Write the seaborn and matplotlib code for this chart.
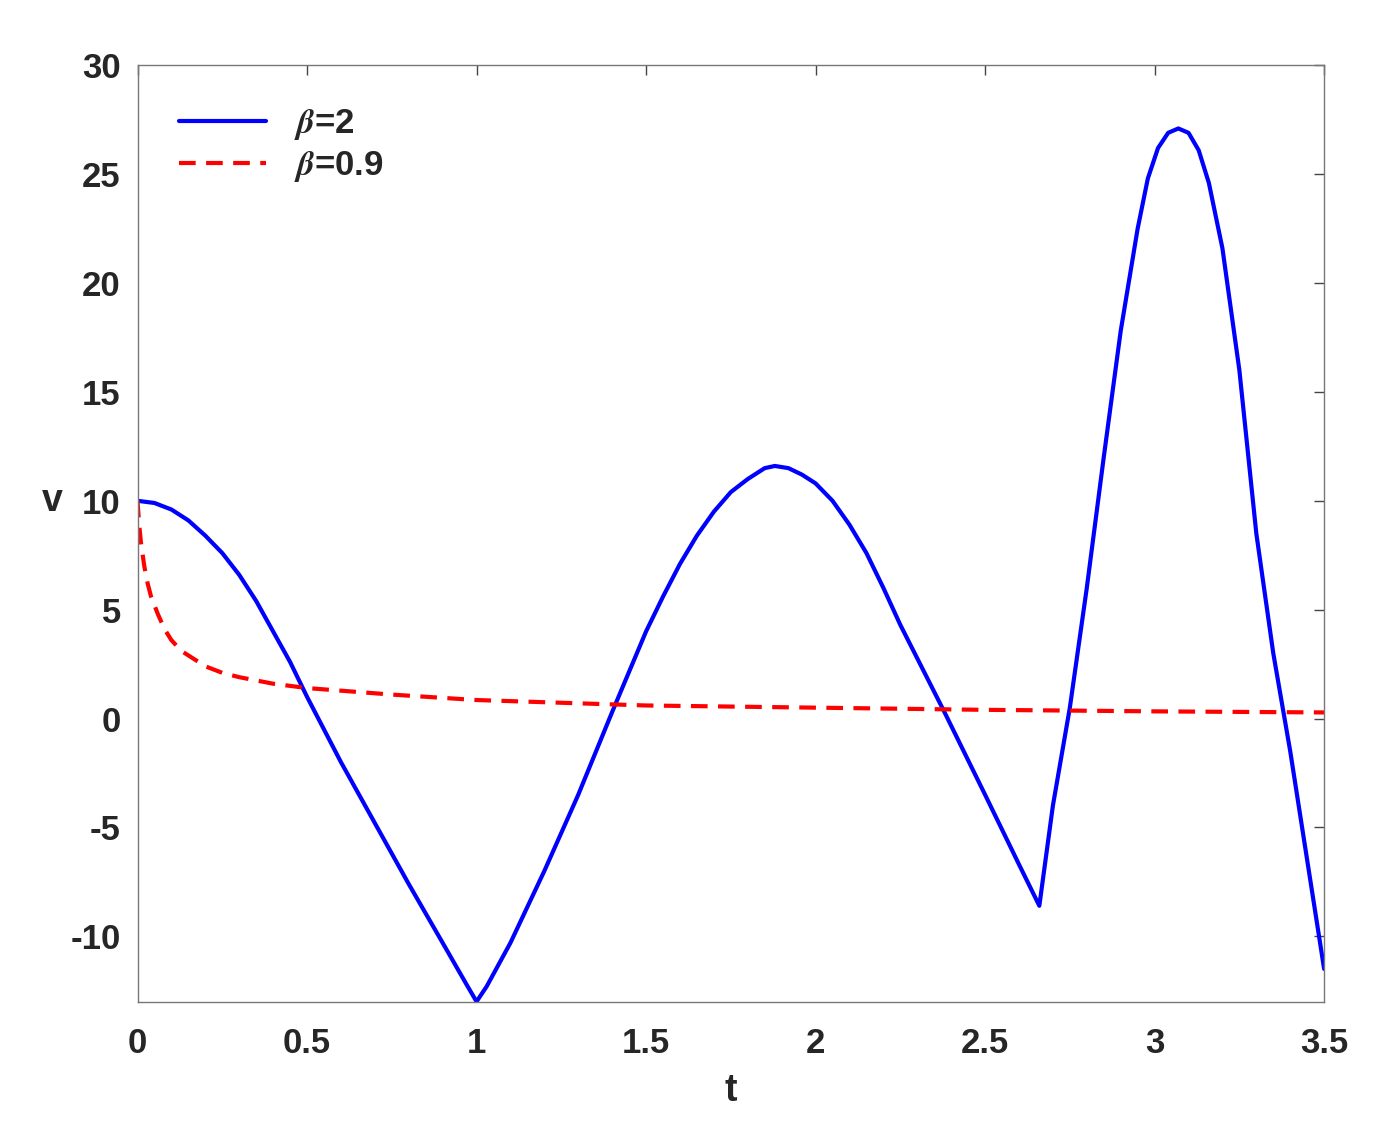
import numpy as np
import pandas as pd
import matplotlib
matplotlib.use("Agg")
import matplotlib.pyplot as plt
import seaborn as sns

# values
t_blue = [0, 0.05, 0.1, 0.15, 0.2, 0.25, 0.3, 0.35, 0.4, 0.45, 0.5, 0.6, 0.7, 0.8,
          0.9, 0.97, 1.0, 1.03, 1.1, 1.2, 1.3, 1.4, 1.5, 1.55, 1.6, 1.65, 1.7, 1.75,
          1.8, 1.85, 1.88, 1.92, 1.96, 2.0, 2.05, 2.1, 2.15, 2.2, 2.25, 2.38, 2.5,
          2.6, 2.66, 2.7, 2.75, 2.8, 2.85, 2.9, 2.95, 2.98, 3.01, 3.04, 3.07, 3.1,
          3.13, 3.16, 3.2, 3.25, 3.3, 3.35, 3.4, 3.45, 3.5]
v_blue = [10, 9.9, 9.6, 9.1, 8.4, 7.6, 6.6, 5.4, 4.0, 2.6, 1.0, -2.0, -4.8, -7.6,
          -10.3, -12.2, -13.0, -12.3, -10.3, -7.0, -3.5, 0.3, 4.0, 5.6, 7.1, 8.4, 9.5, 10.4,
          11.0, 11.5, 11.6, 11.5, 11.2, 10.8, 10.0, 8.9, 7.6, 6.0, 4.3, 0.3, -3.5,
          -6.7, -8.6, -4.0, 0.5, 6.0, 12.0, 17.8, 22.5, 24.8, 26.2, 26.9, 27.1, 26.9,
          26.1, 24.6, 21.6, 16.0, 8.5, 3.0, -1.5, -6.5, -11.5]
t_red = [0, 0.005, 0.01, 0.02, 0.03, 0.04, 0.06, 0.08, 0.1, 0.13, 0.16, 0.2, 0.25,
         0.3, 0.4, 0.5, 0.75, 1.0, 1.5, 2.0, 2.5, 3.0, 3.5]
v_red = [10, 8.9, 8.1, 7.0, 6.2, 5.6, 4.8, 4.1, 3.6, 3.1, 2.8, 2.4, 2.1,
         1.9, 1.6, 1.4, 1.1, 0.85, 0.6, 0.5, 0.4, 0.33, 0.28]

sns.set_style("white")
plt.rcParams['font.family'] = ['Liberation Sans', 'DejaVu Sans']
plt.rcParams['font.weight'] = 'bold'
plt.rcParams['mathtext.fontset'] = 'stix'
plt.rcParams['axes.unicode_minus'] = False

fig, ax = plt.subplots(figsize=(13.75, 11.46), dpi=100)
fig.subplots_adjust(left=0.1, right=0.963, top=0.943, bottom=0.126)

sns.lineplot(x=t_blue, y=v_blue, ax=ax, color='#0000ff', lw=3, label=r'$\beta$=2')
sns.lineplot(x=t_red, y=v_red, ax=ax, color='#ff0000', lw=3, ls=(0, (4, 2.5)),
             label=r'$\beta$=0.9')

ax.set_xlim(0, 3.5)
ax.set_ylim(-13, 30)
ax.set_xticks(np.arange(0, 3.51, 0.5))
ax.set_xticklabels(['0', '0.5', '1', '1.5', '2', '2.5', '3', '3.5'])
ax.set_yticks(np.arange(-10, 31, 5))
ax.tick_params(direction='in', top=True, right=True, length=7, width=1,
               labelsize=25, color='#444444')
ax.tick_params(axis='x', pad=18)
ax.tick_params(axis='y', pad=12)
for s in ax.spines.values():
    s.set_color('#777777')
    s.set_linewidth(1)
ax.set_xlabel('t', fontsize=27, fontweight='bold', labelpad=10)
ax.set_ylabel('v', fontsize=27, fontweight='bold', rotation=0)
ax.yaxis.set_label_coords(-0.072, 0.515)

leg = ax.legend(loc='upper left', frameon=False, fontsize=25, handlelength=2.5,
                borderaxespad=0.8, labelspacing=0.2)
plt.savefig('out.png', dpi=100)
